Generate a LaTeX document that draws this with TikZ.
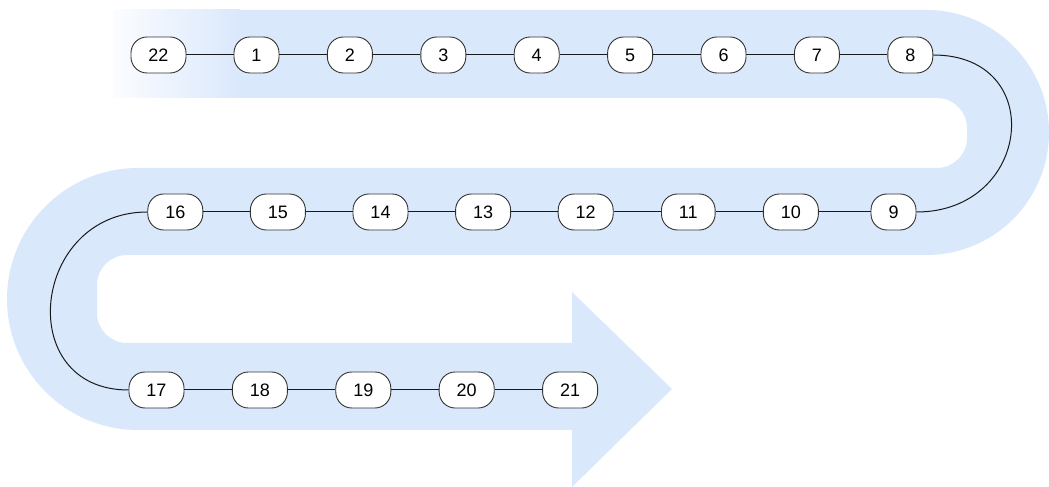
\documentclass[tikz,border=0pt]{standalone}
\usepackage{fontspec}
\setmainfont{Liberation Sans}
\definecolor{bandblue}{HTML}{DAE8FC}
\tikzset{
  stage/.style={draw=black!80, fill=white, line width=0.9pt, rounded corners=16pt,
    minimum height=36pt, inner xsep=17.5pt, inner ysep=0pt,
    text height=13pt, text depth=0pt, font=\fontsize{18}{20}\selectfont},
  link/.style={line width=1pt, draw=black!90},
}
\begin{document}
\begin{tikzpicture}[x=1pt, y=1pt]
\useasboundingbox (0,0) rectangle (1049,487);

% winding band ending in an arrow head
\fill[bandblue]
  (113,477) -- (926.5,477) arc[start angle=90, end angle=-90, radius=122.5]
  -- (127,232) arc[start angle=90, end angle=180, radius=30]
  -- (97,174) arc[start angle=180, end angle=270, radius=30]
  -- (572,144) -- (572,195) -- (672,98) -- (572,0) -- (572,57)
  -- (138,57) arc[start angle=270, end angle=90, radius=131]
  -- (937,319) arc[start angle=270, end angle=360, radius=30]
  -- (967,359) arc[start angle=0, end angle=90, radius=30]
  -- (113,389) -- cycle;
% faded start of the band
\shade[left color=bandblue!10, right color=bandblue] (113,389) rectangle (240,477);

% first row
\node[stage] (n22) at (158.5,432) {22};
\node[stage] (n1) at (256.5,432) {1};
\node[stage] (n2) at (349.9,432) {2};
\node[stage] (n3) at (443.3,432) {3};
\node[stage] (n4) at (536.7,432) {4};
\node[stage] (n5) at (630.1,432) {5};
\node[stage] (n6) at (723.5,432) {6};
\node[stage] (n7) at (816.9,432) {7};
\node[stage] (n8) at (910.3,432) {8};
% second row
\node[stage] (n9) at (893.5,275) {9};
\node[stage] (n10) at (790.9,275) {10};
\node[stage] (n11) at (688.3,275) {11};
\node[stage] (n12) at (585.7,275) {12};
\node[stage] (n13) at (483.1,275) {13};
\node[stage] (n14) at (380.5,275) {14};
\node[stage] (n15) at (277.9,275) {15};
\node[stage] (n16) at (175.3,275) {16};
% third row
\node[stage] (n17) at (156.5,97) {17};
\node[stage] (n18) at (259.9,97) {18};
\node[stage] (n19) at (363.3,97) {19};
\node[stage] (n20) at (466.7,97) {20};
\node[stage] (n21) at (570.1,97) {21};

\draw[link] (n22) -- (n1) -- (n2) -- (n3) -- (n4) -- (n5) -- (n6) -- (n7) -- (n8);
\draw[link] (n8.east) .. controls +(115,0) and +(115,0) .. (n9.east);
\draw[link] (n9) -- (n10) -- (n11) -- (n12) -- (n13) -- (n14) -- (n15) -- (n16);
\draw[link] (n16.west) .. controls +(-116,0) and +(-116,0) .. (n17.west);
\draw[link] (n17) -- (n18) -- (n19) -- (n20) -- (n21);
\end{tikzpicture}
\end{document}
